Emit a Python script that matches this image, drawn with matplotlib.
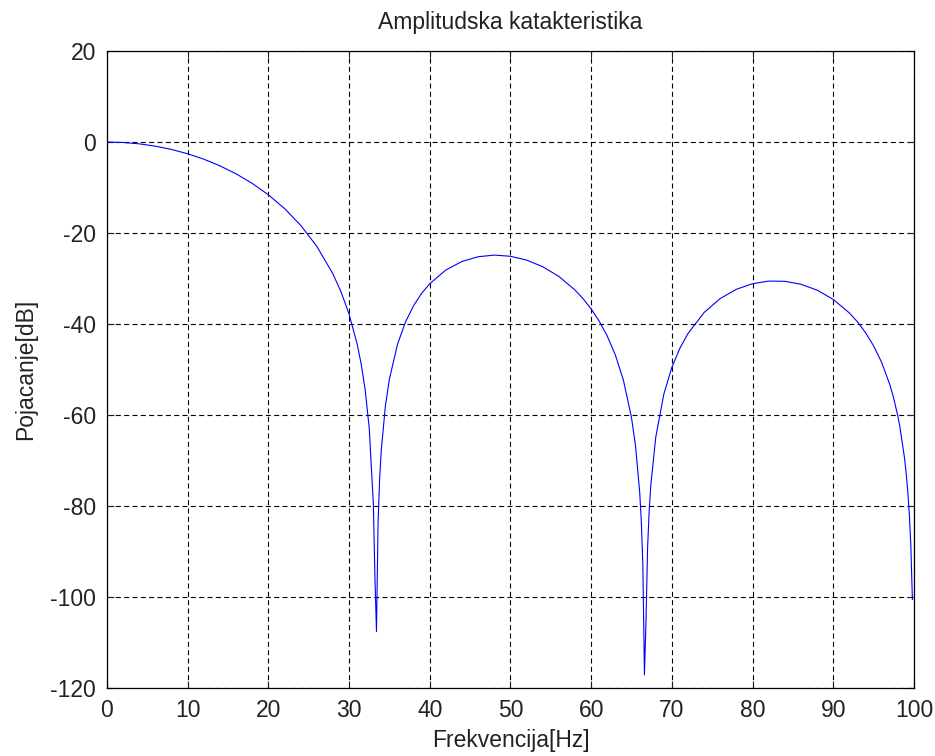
import matplotlib
matplotlib.use('Agg')
import matplotlib.pyplot as plt

# frequency response (Hz, dB)
freq_hz = [0, 2, 4, 6, 8, 10, 12, 14, 16, 18, 20, 22, 24, 26, 28, 29, 30, 31, 31.5, 32, 32.5,
           33.008, 33.203, 33.398, 33.594, 33.789, 33.984, 34.5, 35, 36, 37, 38, 39, 40,
           42, 44, 46, 48, 50, 52, 54, 56, 58, 59, 60, 61, 62, 63, 64, 65, 65.5,
           66.016, 66.211, 66.406, 66.602, 66.797, 66.992, 67.188, 67.383, 68, 69, 70, 71, 72,
           74, 76, 78, 80, 82, 84, 86, 88, 90, 92, 93, 94, 95, 96, 97, 97.461, 98, 98.242,
           98.828, 99, 99.219, 99.414, 99.609, 99.805]
gain_db = [0.0, -0.10, -0.40, -0.91, -1.63, -2.58, -3.77, -5.23, -6.99, -9.09, -11.60, -14.61,
           -18.29, -22.91, -28.98, -32.90, -37.81, -44.38, -48.77, -54.52, -62.90,
           -79.46, -95.47, -107.6, -83.6, -73.99, -67.88, -58.01, -52.08, -44.46, -39.52, -35.95,
           -33.24, -31.13,
           -28.12, -26.24, -25.21, -24.85, -25.11, -25.95, -27.40, -29.54, -32.53, -34.43, -36.68,
           -39.37, -42.66, -46.82, -52.36, -60.58, -66.83,
           -77.02, -83.24, -92.99, -117.1, -105.09, -89.21, -81.08, -75.58, -64.91, -55.43, -49.52,
           -45.30, -42.08,
           -37.46, -34.39, -32.36, -31.13, -30.56, -30.61, -31.26, -32.55, -34.59, -37.57, -39.52,
           -41.89, -44.79, -48.45, -53.28, -56.12, -60.21, -62.43,
           -69.43, -72.18, -76.46, -81.45, -88.48, -100.53]

xticks = list(range(0, 101, 10))
yticks = list(range(-120, 21, 20))

plt.rcParams['font.family'] = ['Liberation Sans', 'DejaVu Sans']
plt.rcParams['font.size'] = 16.5
plt.rcParams['axes.unicode_minus'] = False
plt.rcParams['lines.scale_dashes'] = False

fig = plt.figure(figsize=(9.35, 7.56), dpi=100)
ax = fig.add_axes([0.1144, 0.0899, 0.8631, 0.8426])

ax.plot(freq_hz, gain_db, color='#0000ff', linewidth=0.8)

ax.set_xlim(0, 100)
ax.set_ylim(-120, 20)
ax.set_xticks(xticks)
ax.set_yticks(yticks)
ax.grid(True, color='black', linewidth=0.8, linestyle=(0, (3.6, 2.4)))
ax.tick_params(direction='in', length=5, width=0.8, top=True, right=True, pad=8,
               colors='#222222', labelcolor='#222222')
for s in ax.spines.values():
    s.set_linewidth(0.9)

ax.set_title('Amplitudska katakteristika', pad=16, fontsize=16.5, color='#222222')
ax.set_xlabel('Frekvencija[Hz]', labelpad=5, color='#222222')
ax.set_ylabel('Pojacanje[dB]', labelpad=9, color='#222222')

fig.savefig('out.png', dpi=100)
